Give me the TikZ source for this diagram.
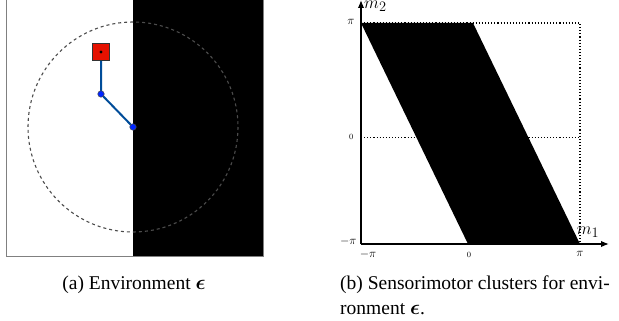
\documentclass[tikz,border=0pt]{standalone}
\usepackage{fontspec}
\usepackage{amsmath}
\setmainfont{Liberation Serif}
\usetikzlibrary{arrows.meta}
\begin{document}
\begin{tikzpicture}[x=1pt,y=-1pt,
  joint/.style={circle,draw=black!70,fill=blue!85!cyan,inner sep=0pt,minimum size=6.5pt,line width=0.5pt},
  link/.style={draw=blue!50!cyan!60!black,line width=2pt},
  gridline/.style={dotted,line width=1.1pt},
  axis/.style={line width=1.5pt,-{Latex[length=8pt,width=6.5pt]}},
  tick/.style={font=\fontsize{12.5}{12.5}\selectfont},
  smalltick/.style={font=\fontsize{8}{8}\selectfont},
  axlabel/.style={font=\fontsize{19}{19}\selectfont,inner sep=1pt},
  captext/.style={font=\fontsize{19.5}{23}\selectfont,inner sep=0pt}
]
\useasboundingbox (0,0) rectangle (619,321);
% ---- left panel
\fill[black] (133,0) rectangle (263,256);
\draw[black!50,line width=1pt] (6,0) rectangle (263,256);
\draw[black!70,line width=1.1pt,dash pattern=on 3pt off 3pt] (133,127) circle (105);
\node[draw=black!80,fill=red!85!orange!90!black,minimum size=17pt,inner sep=0pt,line width=0.7pt] (grip) at (101,52) {};
\fill (grip.center) circle (1.7);
\coordinate (elbowpt) at (101,94);
\coordinate (basept) at (133,127);
\draw[link] (grip.south) -- (elbowpt) -- (basept);
\node[joint] (elbow) at (elbowpt) {};
\node[joint] (base) at (basept) {};
% ---- right panel
\fill[black] (361,23) -- (473,23) -- (580,244) -- (468,244) -- cycle;
\coordinate (o) at (361,244);
\coordinate (tl) at (361,23);
\coordinate (tr) at (580,23);
\coordinate (mr) at (580,137.7);
\coordinate (ml) at (361,137.7);
\coordinate (br) at (580,244);
\draw[gridline] (tl) -- (tr) -- (br);
\draw[gridline] (ml) -- (mr);
\draw[axis] (o) -- (361,0) coordinate (yend);
\draw[axis] (o) -- (609,244) coordinate (xend);
\node[axlabel,anchor=west] (m2) at (363,6) {$m_2$};
\node[axlabel] (m1) at (588,232) {$m_1$};
\node[tick,anchor=east] (ypi) at (358,22) {$\pi$};
\node[smalltick,anchor=east] (yzero) at (357,137) {$0$};
\node[tick,anchor=east] (ympi) at (360,241) {$-\pi$};
\node[tick] (xmpi) at (368,254) {$-\pi$};
\node[smalltick] (xzero) at (469,255) {$0$};
\node[tick] (xpi) at (580,254) {$\pi$};
% ---- captions
\node[captext,anchor=base] (capa) at (134,289) {(a) Environment $\boldsymbol{\epsilon}$};
\node[captext,anchor=base west] (capb1) at (340,289) {(b) Sensorimotor clusters for envi-};
\node[captext,anchor=base west] (capb2) at (340,314) {ronment $\boldsymbol{\epsilon}$.};
\end{tikzpicture}
\end{document}
